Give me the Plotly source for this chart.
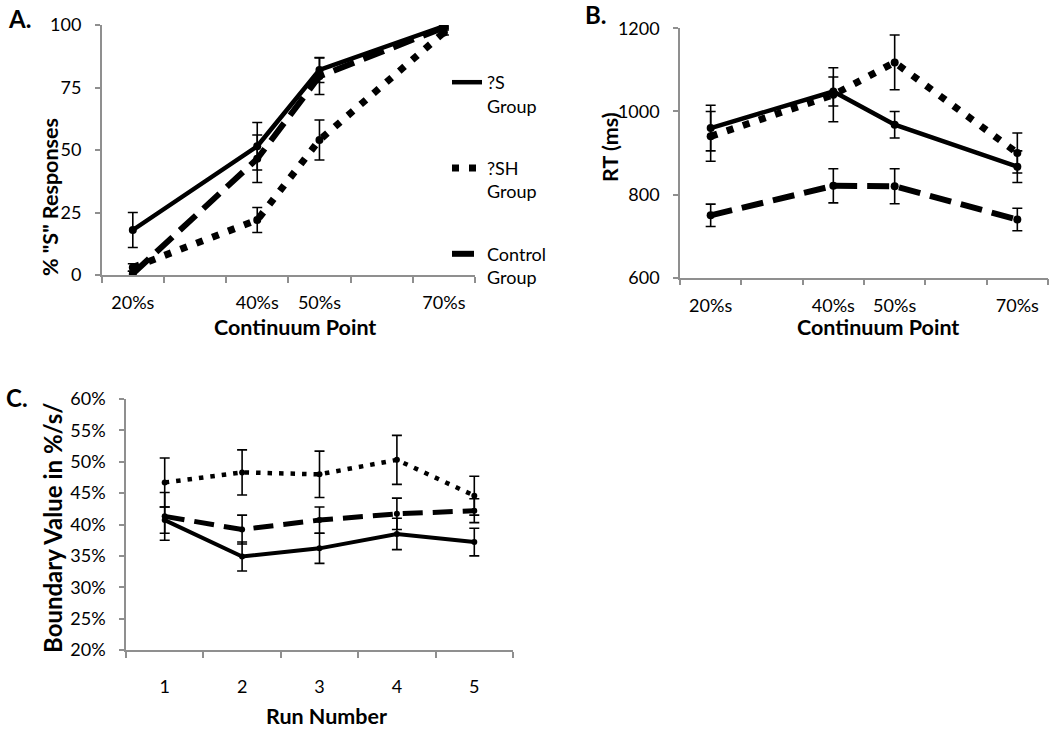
import plotly.graph_objects as go

# ---------------- data ----------------
continuum_labels = ["20%s", "", "40%s", "50%s", "", "70%s"]   # six continuum steps, four tested
group_names = ["?S<br>Group", "?SH<br>Group", "Control<br>Group"]

# Panel A: % "S" responses
a_s = [18, None, 51.5, 82, None, 99.5]
a_s_err = [7, None, 9.5, 5, None, 0.5]
a_sh = [3, None, 22, 54, None, 97]
a_sh_err = [1.5, None, 5, 8, None, 1]
a_ctrl = [0.5, None, 46.5, 79.5, None, 99]
a_ctrl_err = [1, None, 9.5, 7.3, None, 0.5]

# Panel B: RT (ms)
b_s = [960, None, 1048, 968, None, 867]
b_s_err = [55, None, 35, 32, None, 38]
b_sh = [940, None, 1040, 1118, None, 900]
b_sh_err = [60, None, 65, 66, None, 48]
b_ctrl = [750, None, 821, 820, None, 740]
b_ctrl_err = [27, None, 41, 42, None, 27]

# Panel C: boundary value by run
runs = [1, 2, 3, 4, 5]
c_s = [0.407, 0.349, 0.362, 0.385, 0.372]
c_s_err = [0.021, 0.023, 0.024, 0.025, 0.022]
c_sh = [0.467, 0.483, 0.480, 0.503, 0.446]
c_sh_err = [0.039, 0.036, 0.037, 0.039, 0.031]
c_ctrl = [0.413, 0.392, 0.407, 0.417, 0.422]
c_ctrl_err = [0.038, 0.023, 0.021, 0.025, 0.019]

# ---------------- styling ----------------
FONT = "Lato, 'Open Sans', sans-serif"
AX = "#8f8f8f"
cont_x = list(range(len(continuum_labels)))

styles_ab = [
    dict(color="black", width=4.5, dash="solid"),
    dict(color="black", width=7, dash="7px,10px"),
    dict(color="black", width=6, dash="22px,10px"),
]
styles_c = [
    dict(color="black", width=4, dash="solid"),
    dict(color="black", width=4.5, dash="4.5px,7px"),
    dict(color="black", width=5, dash="20px,10px"),
]

fig = go.Figure()


def add_series(x, y, err, style, xa, ya, name, show, group, msize):
    fig.add_trace(go.Scatter(
        x=x, y=y, mode="lines", line=style, connectgaps=True,
        xaxis=xa, yaxis=ya, name=name, showlegend=show, legendgroup=group,
        hoverinfo="skip"))
    fig.add_trace(go.Scatter(
        x=x, y=y, mode="markers", marker=dict(color="black", size=msize),
        error_y=dict(type="data", array=err, visible=True, color="black",
                     thickness=1.6, width=5),
        xaxis=xa, yaxis=ya, showlegend=False, hoverinfo="skip"))


groups = ["s", "sh", "ctrl"]
for i, (y, e) in enumerate([(a_s, a_s_err), (a_sh, a_sh_err), (a_ctrl, a_ctrl_err)]):
    add_series(cont_x, y, e, styles_ab[i], "x", "y", group_names[i], True, groups[i], 8)
for i, (y, e) in enumerate([(b_s, b_s_err), (b_sh, b_sh_err), (b_ctrl, b_ctrl_err)]):
    add_series(cont_x, y, e, styles_ab[i], "x2", "y2", group_names[i], False, groups[i], 8)
for i, (y, e) in enumerate([(c_s, c_s_err), (c_sh, c_sh_err), (c_ctrl, c_ctrl_err)]):
    add_series(runs, y, e, styles_c[i], "x3", "y3", group_names[i], False, groups[i], 6)

W, H = 1050, 732


def px_x(v):
    return v / W


def px_y(v):
    return 1 - v / H


tickfont = dict(family=FONT, size=18, color="black")
n = len(continuum_labels)
bounds = [i - 0.5 for i in range(n + 1)]

common_x = dict(showline=True, linecolor=AX, linewidth=1.5, showgrid=False, zeroline=False,
                ticks="", tickfont=tickfont, fixedrange=True, automargin=False)
common_y = dict(showline=True, linecolor=AX, linewidth=1.5, showgrid=False, zeroline=False,
                ticks="outside", ticklen=5, tickcolor=AX, tickwidth=1.5, tickfont=tickfont,
                ticklabelstandoff=10, fixedrange=True, automargin=False)
minor_cont = dict(tickvals=bounds, ticks="outside", ticklen=6, tickcolor=AX, tickwidth=1.5)
minor_runs = dict(tickvals=[r - 0.5 for r in runs] + [runs[-1] + 0.5], ticks="outside",
                  ticklen=6, tickcolor=AX, tickwidth=1.5)

fig.update_layout(
    width=W, height=H, margin=dict(l=0, r=0, t=0, b=0, autoexpand=False),
    paper_bgcolor="white", plot_bgcolor="white",
    font=dict(family=FONT, color="black"),
    xaxis=dict(common_x, domain=[px_x(101.7), px_x(475)], range=[-0.5, n - 0.5],
               tickmode="array", tickvals=cont_x, ticktext=continuum_labels,
               minor=minor_cont, ticklabelstandoff=11, anchor="y"),
    yaxis=dict(common_y, domain=[px_y(275), px_y(25)], range=[0, 100],
               tickvals=[0, 25, 50, 75, 100], anchor="x"),
    xaxis2=dict(common_x, domain=[px_x(680), px_x(1048)], range=[-0.5, n - 0.5],
                tickmode="array", tickvals=cont_x, ticktext=continuum_labels,
                minor=minor_cont, ticklabelstandoff=11, anchor="y2"),
    yaxis2=dict(common_y, domain=[px_y(277.7), px_y(28.3)], range=[600, 1200],
                tickvals=[600, 800, 1000, 1200], anchor="x2"),
    xaxis3=dict(common_x, domain=[px_x(126), px_x(513)], range=[0.5, 5.5],
                tickmode="array", tickvals=runs, minor=minor_runs,
                ticklabelstandoff=20, anchor="y3"),
    yaxis3=dict(common_y, domain=[px_y(650), px_y(399)], range=[0.2, 0.6],
                tickvals=[0.2, 0.25, 0.3, 0.35, 0.4, 0.45, 0.5, 0.55, 0.6],
                tickformat=".0%", anchor="x3"),
    legend=dict(x=px_x(447), y=px_y(64), xanchor="left", yanchor="top",
                bgcolor="rgba(0,0,0,0)", font=dict(family=FONT, size=18, color="black"),
                tracegroupgap=36, valign="top", itemwidth=30),
)

title_font = dict(family=FONT, size=21.5, color="black")
letter_font = dict(family=FONT, size=24, color="black")
ann = [
    dict(text="<b>A.</b>", x=px_x(6), y=px_y(18), xanchor="left", yanchor="middle", font=letter_font),
    dict(text="<b>B.</b>", x=px_x(583), y=px_y(15), xanchor="left", yanchor="middle", font=letter_font),
    dict(text="<b>C.</b>", x=px_x(4), y=px_y(397), xanchor="left", yanchor="middle", font=letter_font),
    dict(text="<b>Continuum Point</b>", x=px_x(295), y=px_y(327), xanchor="center", yanchor="middle", font=title_font),
    dict(text="<b>Continuum Point</b>", x=px_x(878), y=px_y(327), xanchor="center", yanchor="middle", font=title_font),
    dict(text="<b>Run Number</b>", x=px_x(326), y=px_y(716), xanchor="center", yanchor="middle", font=title_font),
    dict(text="<b>% \"S\" Responses</b>", x=px_x(50), y=px_y(197), xanchor="center", yanchor="middle", textangle=-90, font=title_font),
    dict(text="<b>RT (ms)</b>", x=px_x(610), y=px_y(147), xanchor="center", yanchor="middle", textangle=-90, font=title_font),
    dict(text="<b>Boundary Value in %/s/</b>", x=px_x(52), y=px_y(528), xanchor="center", yanchor="middle", textangle=-90,
         font=dict(family=FONT, size=24, color="black")),
]
for a in ann:
    a.update(xref="paper", yref="paper", showarrow=False)
fig.update_layout(annotations=ann)

fig.write_html("out.html", config={"displayModeBar": False},
               post_script="document.body.style.margin='0';document.body.style.padding='0';")
